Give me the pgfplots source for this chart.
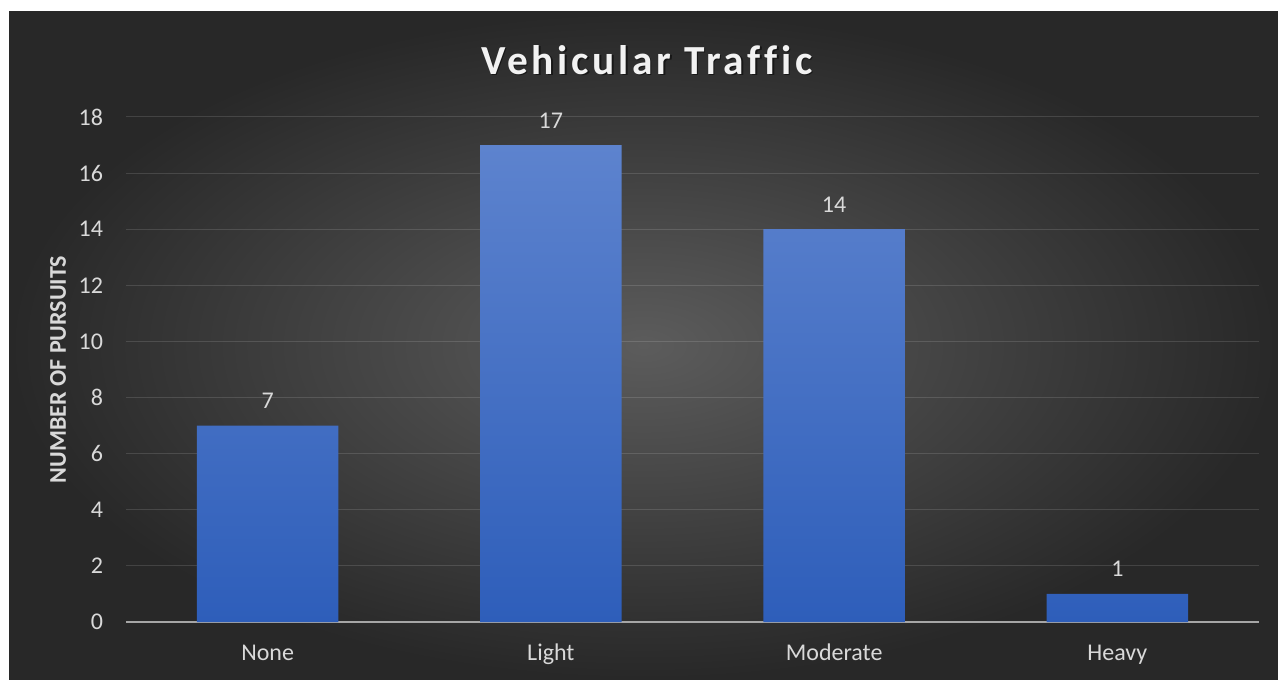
\documentclass[border=0pt]{standalone}
\usepackage{fontspec}
\setmainfont{Carlito}
\newfontfamily\titlefont{Carlito}[LetterSpace=9, Ligatures=NoCommon]
\usepackage{pgfplots}
\pgfplotsset{compat=1.18}

\definecolor{bgin}{RGB}{92,92,92}
\definecolor{bgout}{RGB}{40,40,40}
\definecolor{txt}{RGB}{217,217,217}
\definecolor{bartop}{RGB}{93,131,206}
\definecolor{barbot}{RGB}{46,94,186}
\definecolor{zeroline}{RGB}{166,166,166}

\begin{document}
\begin{tikzpicture}[x=0.75pt,y=0.75pt]
% canvas 1278 x 679 px
\fill[white] (0,0) rectangle (1278,679);
\shade[inner color=bgin, outer color=bgout] (9,0) rectangle (1278,667);

\begin{axis}[
    at={(94.5pt,42.75pt)}, anchor=south west,
    scale only axis,
    width=849.75pt, height=378.75pt,
    ybar, bar width=0.5,
    xmin=-0.5, xmax=3.5,
    ymin=0, ymax=18,
    xtick=data,
    xticklabels={None, Light, Moderate, Heavy},
    ytick={0,2,...,18},
    axis line style={draw=none},
    major tick length=0pt,
    ymajorgrids,
    grid style={white, opacity=0.13, line width=0.75pt},
    extra y ticks={0},
    extra y tick labels={},
    extra y tick style={grid style={zeroline, opacity=1, line width=1.5pt}},
    /pgf/number format/assume math mode=true,
    tick label style={font=\fontsize{18}{20}\selectfont, text=txt},
    yticklabel style={anchor=east, inner sep=0pt, xshift=-17pt},
    xticklabel style={anchor=base, inner sep=0pt, yshift=-28.5pt},
    ylabel={\bfseries NUMBER OF PURSUITS},
    every axis y label/.style={at={(rel axis cs:0,0.5)}, rotate=90, anchor=center,
        yshift=51pt, font=\fontsize{18}{20}\selectfont, text=txt},
    nodes near coords,
    every node near coord/.append style={anchor=base, inner sep=0pt, yshift=12.75pt,
        font=\fontsize{18}{20}\selectfont, text=txt},
]
\addplot[draw=none, top color=bartop, bottom color=barbot]
    coordinates {(0,7) (1,17) (2,14) (3,1)};
\end{axis}

\node[text=black, opacity=0.5, font=\titlefont\bfseries\fontsize{31}{34}\selectfont]
    at (648.5,617.5) {Vehicular Traffic};
\node[text=white!95!black, font=\titlefont\bfseries\fontsize{31}{34}\selectfont]
    at (647,619) {Vehicular Traffic};
\end{tikzpicture}
\end{document}
